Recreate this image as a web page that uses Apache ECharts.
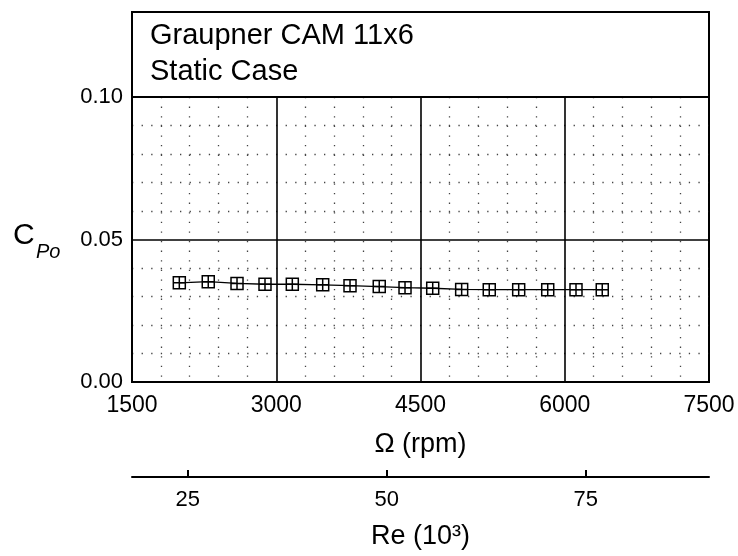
<!DOCTYPE html>
<html>
<head>
<meta charset="utf-8">
<script src="https://cdn.jsdelivr.net/npm/echarts@6/dist/echarts.min.js"></script>
<style>
html,body{margin:0;padding:0;background:#fff;}
#main{width:738px;height:556px;}
</style>
</head>
<body>
<div id="main"></div>
<script>
// Data
const titleLines = ['Graupner CAM 11x6', 'Static Case'];
const rpm = [1992, 2293, 2592, 2883, 3167, 3483, 3767, 4071, 4339, 4627, 4928, 5215, 5521, 5823, 6117, 6390];
const cpo = [0.0348, 0.0352, 0.0346, 0.0343, 0.0343, 0.0341, 0.0338, 0.0335, 0.0331, 0.0329, 0.0325, 0.0324, 0.0324, 0.0324, 0.0324, 0.0324];
const rpmTicks = [1500, 3000, 4500, 6000, 7500];
const cpoTicks = [0.00, 0.05, 0.10];
const reTicks = [25, 50, 75];
const reRange = [18.0, 90.5];

const FONT = '"Liberation Sans", Arial, Helvetica, sans-serif';
const chart = echarts.init(document.getElementById('main'), null, {renderer: 'canvas'});

const gridL = 132, gridR = 29, gridT = 97, gridB = 174;
const W = 738;

chart.setOption({
  animation: false,
  backgroundColor: '#fff',
  textStyle: {fontFamily: FONT},
  grid: {left: gridL, right: gridR, top: gridT, bottom: gridB, show: true, borderColor: '#000', borderWidth: 2, backgroundColor: 'transparent'},
  xAxis: [{
    type: 'value', gridIndex: 0, position: 'bottom',
    min: rpmTicks[0], max: rpmTicks[rpmTicks.length - 1], interval: 1500,
    axisLine: {show: true, lineStyle: {color: '#000', width: 2}},
    axisTick: {show: false},
    minorTick: {show: false, splitNumber: 5},
    axisLabel: {color: '#000', fontSize: 23, fontFamily: FONT, margin: 12, formatter: v => String(v)},
    splitLine: {show: true, lineStyle: {color: '#000', width: 1.6}},
    minorSplitLine: {show: true, lineStyle: {color: '#444', width: 1.3, type: [1.3, 8.3]}},
    name: 'Ω (rpm)', nameLocation: 'middle', nameGap: 49,
    nameTextStyle: {color: '#000', fontSize: 27, fontFamily: FONT}
  }, {
    type: 'value', gridIndex: 0, position: 'bottom', offset: 95,
    min: reRange[0], max: reRange[1],
    axisLine: {show: true, lineStyle: {color: '#000', width: 2}},
    axisTick: {show: true, inside: true, length: 7, customValues: reTicks, lineStyle: {color: '#000', width: 2}},
    axisLabel: {color: '#000', fontSize: 22, fontFamily: FONT, margin: 12, customValues: reTicks},
    splitLine: {show: false},
    name: 'Re (10³)', nameLocation: 'middle', nameGap: 46,
    nameTextStyle: {color: '#000', fontSize: 27, fontFamily: FONT}
  }],
  yAxis: {
    type: 'value', min: cpoTicks[0], max: cpoTicks[cpoTicks.length - 1], interval: 0.05,
    axisLine: {show: true, lineStyle: {color: '#000', width: 2}},
    axisTick: {show: false},
    minorTick: {show: false, splitNumber: 5},
    axisLabel: {color: '#000', fontSize: 22, fontFamily: FONT, margin: 9, formatter: v => v.toFixed(2)},
    splitLine: {show: true, lineStyle: {color: '#000', width: 1.6}},
    minorSplitLine: {show: true, lineStyle: {color: '#444', width: 1.3, type: [1.3, 8.3]}}
  },
  graphic: [
    {type: 'rect', shape: {x: gridL, y: 12, width: W - gridL - gridR, height: gridT - 12},
     style: {fill: 'none', stroke: '#000', lineWidth: 2}, z: 10},
    {type: 'text', left: 150, top: 21, style: {text: titleLines[0], fontSize: 29, fontFamily: FONT, fill: '#000'}, z: 11},
    {type: 'text', left: 150, top: 57, style: {text: titleLines[1], fontSize: 29, fontFamily: FONT, fill: '#000'}, z: 11},
    {type: 'text', left: 13, top: 221, style: {text: 'C', fontSize: 30, fontFamily: FONT, fill: '#000'}, z: 11},
    {type: 'text', left: 36, top: 242, style: {text: 'Po', fontSize: 20, fontStyle: 'italic', fontFamily: FONT, fill: '#000'}, z: 11}
  ],
  series: [{
    type: 'line',
    xAxisIndex: 0, yAxisIndex: 0,
    data: rpm.map((r, i) => [r, cpo[i]]),
    lineStyle: {color: '#000', width: 1.3},
    symbol: 'path://M0,0H10V10H0Z M5,0V10 M0,5H10',
    symbolSize: 12,
    itemStyle: {color: 'rgba(255,255,255,0)', borderColor: '#000', borderWidth: 1.5},
    z: 5
  }]
});
</script>
</body>
</html>
